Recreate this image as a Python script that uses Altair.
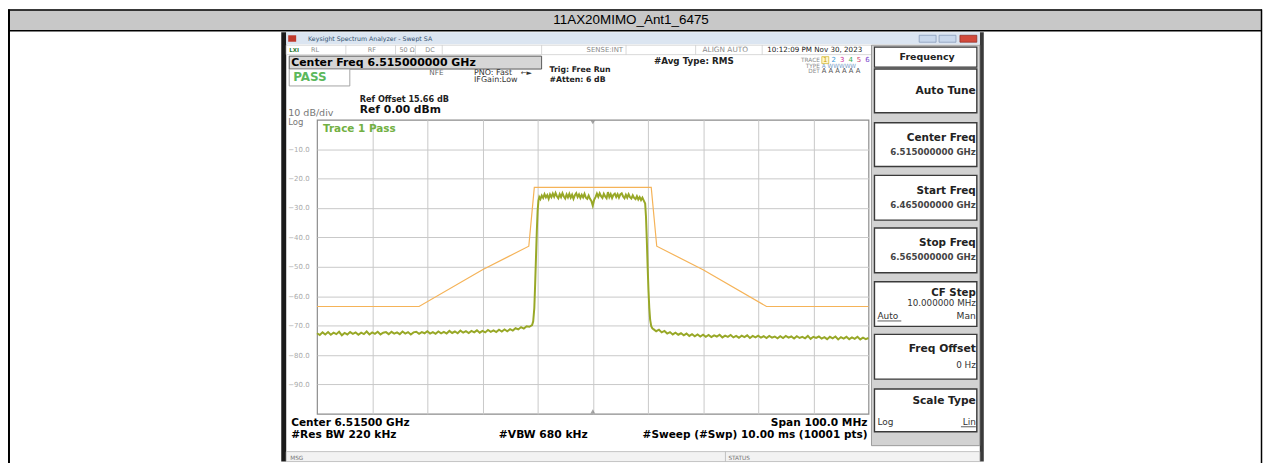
import altair as alt
import pandas as pd

# ---------------- data ----------------
# Trace 1, frequency offset from centre (MHz) / level (dBm)
left_floor_start, floor_step = -50.0, 0.5
left_floor_dbm = [
    -72.6, -73.2, -72.3, -73.0, -72.2, -73.1, -72.4, -72.9, -72.1, -73.3,
    -72.5, -73.0, -72.2, -72.8, -72.3, -73.1, -72.4, -72.9, -72.0, -73.0,
    -72.3, -72.8, -72.1, -73.0, -72.4, -72.2, -72.9, -72.1, -72.7, -72.3,
    -72.9, -72.0, -72.7, -72.2, -73.0, -72.3, -72.1, -72.8, -72.2, -72.6,
    -71.9, -72.7, -72.2, -72.8, -72.0, -72.6, -72.1, -72.7, -71.8, -72.5,
    -72.0, -72.6, -71.7, -72.4, -71.9, -72.5, -71.8, -72.3, -71.6, -72.4,
    -71.8, -72.3, -71.5, -72.1, -71.6, -72.2, -71.4, -72.0, -71.3, -71.9,
    -71.2, -71.7, -70.9, -71.3, -70.5, -71.0, -70.2, -70.4,
]
left_edge_mhz = [-11.0, -10.8, -10.6, -10.45, -10.3, -10.15, -10.0, -9.85, -9.7]
left_edge_dbm = [-69.8, -68.5, -64.0, -56.0, -47.0, -38.0, -31.0, -27.5, -26.3]
band_start, band_step = -9.5, 0.25
band_dbm = [
    -27.0, -25.8, -26.6, -25.3, -26.4, -25.6, -26.9, -25.4, -26.3, -25.1,
    -26.2, -24.9, -26.0, -26.7, -25.3, -26.3, -25.0, -26.1, -26.8, -25.4,
    -26.4, -25.2, -26.5, -25.5, -26.9, -25.7, -25.0, -26.3, -25.4, -26.6,
    -25.5, -26.4, -25.2, -26.5, -26.9, -25.8, -26.9, -27.6, -29.2, -27.2,
    -26.3, -25.1, -26.2, -25.0, -26.0, -26.6, -25.2, -26.1, -26.7, -24.6,
    -26.3, -25.3, -26.6, -25.5, -25.1, -26.3, -25.3, -26.5, -25.4, -25.0,
    -26.1, -26.7, -25.5, -26.5, -25.3, -26.3, -26.8, -25.7, -26.6, -27.0,
    -26.0, -27.1, -26.3, -27.3, -26.5, -27.5,
]
right_edge_mhz = [9.5, 9.65, 9.8, 9.95, 10.1, 10.25, 10.4, 10.6, 10.8]
right_edge_dbm = [-28.5, -33.0, -41.0, -50.0, -58.0, -64.0, -68.0, -70.2, -70.9]
right_floor_start = 11.0
right_floor_dbm = [
    -71.2, -71.9, -71.4, -72.3, -71.8, -72.7, -72.2, -73.0, -72.4, -73.1,
    -72.6, -73.3, -72.7, -73.5, -72.9, -73.6, -73.0, -73.7, -73.1, -73.8,
    -73.2, -73.9, -73.3, -73.7, -73.1, -74.0, -73.4, -73.8, -73.2, -74.0,
    -73.5, -74.1, -73.4, -73.9, -73.3, -74.2, -73.5, -74.0, -73.4, -74.1,
    -73.6, -74.2, -73.5, -74.1, -73.7, -74.3, -73.6, -74.2, -73.5, -74.1,
    -73.7, -74.4, -73.6, -74.2, -73.8, -74.3, -73.5, -74.5, -73.8, -74.2,
    -73.7, -74.4, -73.9, -74.6, -73.8, -74.3, -73.7, -74.7, -73.9, -74.4,
    -73.8, -74.6, -74.0, -74.5, -73.8, -74.7, -74.1, -74.6, -74.2,
]
# limit line (spectral mask)
mask_mhz = [-50, -31.5, -20, -11.6, -10.6, 10.6, 11.6, 20, 31.5, 50]
mask_dbm = [-63.5, -63.5, -51.0, -43.0, -23.0, -23.0, -43.0, -51.0, -63.5, -63.5]

y_label_values = [-10, -20, -30, -40, -50, -60, -70, -80, -90]
x_grid_values = [-40, -30, -20, -10, 0, 10, 20, 30, 40]

softkeys = [
    ("Center Freq", "6.515000000 GHz"),
    ("Start Freq", "6.465000000 GHz"),
    ("Stop Freq", "6.565000000 GHz"),
]

# ---------------- build tables ----------------
f, v = [], []
f += [left_floor_start + floor_step * i for i in range(len(left_floor_dbm))]
v += left_floor_dbm
f += left_edge_mhz
v += left_edge_dbm
f += [band_start + band_step * i for i in range(len(band_dbm))]
v += band_dbm
f += right_edge_mhz
v += right_edge_dbm
f += [right_floor_start + floor_step * i for i in range(len(right_floor_dbm))]
v += right_floor_dbm
trace_df = pd.DataFrame({"f": f, "dbm": v})
mask_df = pd.DataFrame({"f": mask_mhz, "dbm": mask_dbm})

FONT = "DejaVu Sans"
X0, Y0 = 319, 119          # page position of the plot area's top-left corner
W, H = 555, 296
ONE = pd.DataFrame({"k": [0]})

xs = alt.Scale(domain=[-50, 50], nice=False, zero=False)
ys = alt.Scale(domain=[-100, 0], nice=False, zero=False)
XAX = alt.Axis(values=x_grid_values, grid=True, labels=False, ticks=False, domain=False,
               title=None, gridColor="#c9c9c9", gridWidth=1)
YAX = alt.Axis(values=y_label_values, grid=True, format=".1f", ticks=False, domain=False,
               title=None, gridColor="#c9c9c9", gridWidth=1, labelColor="#aaaaaa",
               labelFontSize=7, labelFont=FONT, labelPadding=8, labelOverlap=False,
               labelBound=False)


def T(text, x, y, size=8, weight="normal", color="#000000", align="left", font=FONT):
    return alt.Chart(ONE).mark_text(
        text=text, fontSize=size, fontWeight=weight, color=color, align=align,
        baseline="middle", font=font
    ).encode(x=alt.value(x - X0), y=alt.value(y - Y0))


def R(x1, y1, x2, y2, fill="#ffffff", stroke=None, sw=1.0):
    kw = dict(fill=fill, strokeWidth=sw)
    if stroke:
        kw["stroke"] = stroke
    return alt.Chart(ONE).mark_rect(**kw).encode(
        x=alt.value(x1 - X0), x2=alt.value(x2 - X0),
        y=alt.value(y1 - Y0), y2=alt.value(y2 - Y0)
    )


def L(x1, y1, x2, y2, color="#000000", sw=1.0):
    return alt.Chart(ONE).mark_rule(color=color, strokeWidth=sw).encode(
        x=alt.value(x1 - X0), x2=alt.value(x2 - X0),
        y=alt.value(y1 - Y0), y2=alt.value(y2 - Y0)
    )


layers = []
# ---- document table + title row ----
layers.append(R(8, 8, 1270, 29, fill="#c8c8c8"))
layers.append(L(8, 8.5, 1270, 8.5, "#000000", 1.5))
layers.append(L(8, 29.5, 1270, 29.5, "#000000", 1.5))
layers.append(L(9, 8, 9, 470, "#000000", 2))
layers.append(L(1269.5, 8, 1269.5, 470, "#000000", 1.5))
layers.append(T("11AX20MIMO_Ant1_6475", 635, 19, size=13.5, align="center", font="Liberation Sans"))

# ---- window frame ----
layers.append(R(283, 31, 288, 463, fill="#1a1a1a"))
layers.append(R(986, 31, 990, 463, fill="#3a3a3a"))
layers.append(R(288, 31, 986, 43, fill="#dbe5f1"))
layers.append(R(290, 34, 298, 40.5, fill="#c0392b"))
layers.append(T("Keysight Spectrum Analyzer - Swept SA", 310, 38, size=6.3, color="#2f4f6f"))
layers.append(R(925, 34, 942, 41, fill="#c9d8ec", stroke="#7f93b3", sw=0.7))
layers.append(R(945, 34, 962, 41, fill="#c9d8ec", stroke="#7f93b3", sw=0.7))
layers.append(R(966, 34, 983, 41, fill="#d24a3c", stroke="#8a2a20", sw=0.7))

# ---- status row ----
layers.append(R(288, 44, 877, 53.5, fill="#ffffff", stroke="#c8c8c8", sw=0.7))
for sx in [348, 398, 418, 445, 545, 630, 700, 767]:
    layers.append(L(sx, 44, sx, 53.5, "#c8c8c8", 0.7))
layers.append(T("LXI", 291, 49, size=5.5, weight="bold", color="#2e7d32"))
layers.append(T("RL", 313, 49, size=6.5, color="#8a8a8a"))
layers.append(T("RF", 370, 49, size=6.5, color="#8a8a8a"))
layers.append(T("50 Ω", 402, 49, size=6.5, color="#8a8a8a"))
layers.append(T("DC", 428, 49, size=6.5, color="#8a8a8a"))
layers.append(T("SENSE:INT", 627, 49, size=7, color="#8a8a8a", align="right"))
layers.append(T("ALIGN AUTO", 707, 49, size=7.4, color="#8a8a8a"))
layers.append(T("10:12:09 PM Nov 30, 2023", 772, 49, size=7.2, color="#222222"))

# ---- top info block ----
layers.append(R(291, 55, 545, 68, fill="#d6d6d6", stroke="#4a4a4a", sw=0.9))
layers.append(T("Center Freq 6.515000000 GHz", 293, 61.5, size=11, weight="bold"))
layers.append(R(291, 68, 352, 85, fill="#ffffff", stroke="#9a9a9a", sw=0.9))
layers.append(T("PASS", 295, 76.5, size=12, weight="bold", color="#5cb85c"))
layers.append(T("NFE", 432, 71.5, size=7.3, color="#666666"))
layers.append(T("PNO: Fast", 477, 71.5, size=8, color="#333333"))
layers.append(T("←►", 524, 71.5, size=7, color="#333333"))
layers.append(T("IFGain:Low", 477, 79.5, size=8, color="#333333"))
layers.append(T("Trig: Free Run", 553, 68.5, size=7.8, weight="bold", color="#222222"))
layers.append(T("#Atten: 6 dB", 553, 79.5, size=7.8, weight="bold", color="#222222"))
layers.append(T("#Avg Type: RMS", 658, 60, size=8.8, weight="bold", color="#222222"))
layers.append(T("TRACE", 825, 59, size=5.8, color="#8a8a8a", align="right"))
layers.append(T("TYPE", 825, 64.5, size=5.8, color="#8a8a8a", align="right"))
layers.append(T("DET", 825, 70, size=5.8, color="#8a8a8a", align="right"))
layers.append(R(827, 55.5, 834, 62.5, fill="#fff6cc", stroke="#c9a800", sw=0.6))
trace_colors = ["#c9a000", "#3a9ad9", "#cc3399", "#33aa44", "#cc3366", "#7744cc"]
for i, c in enumerate(trace_colors):
    layers.append(T(str(i + 1), 830.5 + 8.5 * i, 59, size=7, color=c, align="center"))
layers.append(T("A  WWWWW", 827, 64.5, size=5.8, color="#7aa0c8"))
layers.append(T("A  A  A  A  A  A", 827, 70, size=6.8, color="#555555"))

layers.append(T("Ref Offset 15.66 dB", 362, 99.5, size=8.2, weight="bold", color="#222222"))
layers.append(T("Ref 0.00 dBm", 362, 109.5, size=10.8, weight="bold", color="#111111"))
layers.append(T("10 dB/div", 290, 112, size=9.6, color="#777777"))
layers.append(T("Log", 290, 121, size=8.6, color="#777777"))

# ---- bottom info ----
layers.append(T("Center 6.51500 GHz", 293, 424, size=10.6, weight="bold"))
layers.append(T("Span 100.0 MHz", 873, 424, size=10.7, weight="bold", align="right"))
layers.append(T("#Res BW 220 kHz", 293, 436.5, size=10.7, weight="bold"))
layers.append(T("#VBW 680 kHz", 502, 436.5, size=10.8, weight="bold"))
layers.append(T("#Sweep (#Swp)  10.00 ms (10001 pts)", 873, 436.5, size=10.6, weight="bold", align="right"))
layers.append(R(288, 453, 986, 463, fill="#f2f2f2", stroke="#b5b5b5", sw=0.8))
layers.append(L(730, 453, 730, 463, "#b5b5b5", 0.8))
layers.append(T("MSG", 292, 459, size=5.8, color="#777777"))
layers.append(T("STATUS", 733, 459, size=5.8, color="#777777"))

# ---- softkey panel ----
layers.append(R(877, 44, 986, 447, fill="#d2d2d2", stroke="#8a8a8a", sw=0.8))
layers.append(R(880, 46, 983, 66, fill="#ffffff", stroke="#3a3a3a", sw=1.2))
layers.append(T("Frequency", 933, 56, size=9.5, weight="bold", color="#222222", align="center"))
buttons = [(68, 112), (122, 166), (175, 220), (228, 273), (282, 327), (335, 380), (390, 433)]
for (b1, b2) in buttons:
    layers.append(R(880, b1, 983, b2, fill="#ffffff", stroke="#3a3a3a", sw=1.4))
layers.append(T("Auto Tune", 982, 90.5, size=10.7, weight="bold", color="#222222", align="right"))
for (title, val), (b1, b2) in zip(softkeys, buttons[1:4]):
    layers.append(T(title, 982, b1 + 15.5, size=10.5, weight="bold", color="#222222", align="right"))
    layers.append(T(val, 982, b1 + 29.5, size=8.7, weight="bold", color="#444444", align="right"))
layers.append(T("CF Step", 982, 293, size=10.3, weight="bold", color="#222222", align="right"))
layers.append(T("10.000000 MHz", 982, 303.5, size=8.8, color="#333333", align="right"))
layers.append(T("Auto", 883, 316.5, size=9, color="#333333"))
layers.append(L(883, 321.5, 907, 321.5, "#333333", 0.8))
layers.append(T("Man", 982, 316.5, size=9.2, color="#333333", align="right"))
layers.append(T("Freq Offset", 982, 350, size=10.8, weight="bold", color="#222222", align="right"))
layers.append(T("0 Hz", 982, 366, size=8.9, color="#333333", align="right"))
layers.append(T("Scale Type", 982, 402, size=10.7, weight="bold", color="#222222", align="right"))
layers.append(T("Log", 883, 423, size=9, color="#333333"))
layers.append(T("Lin", 982, 423, size=9, color="#333333", align="right"))
layers.append(L(967, 428, 982, 428, "#333333", 0.8))

# ---- plot content (through the scales) ----
grid_layer = alt.Chart(mask_df).mark_line(opacity=0).encode(
    x=alt.X("f:Q", scale=xs, axis=XAX),
    y=alt.Y("dbm:Q", scale=ys, axis=YAX),
)
mask_layer = alt.Chart(mask_df).mark_line(color="#f5b358", strokeWidth=1.2).encode(
    x=alt.X("f:Q", scale=xs, axis=XAX), y=alt.Y("dbm:Q", scale=ys, axis=YAX)
)
trace_layer = alt.Chart(trace_df).mark_line(color="#98a827", strokeWidth=2.0).encode(
    x=alt.X("f:Q", scale=xs, axis=XAX), y=alt.Y("dbm:Q", scale=ys, axis=YAX)
)
marker_top = alt.Chart(ONE).mark_point(shape="triangle-down", filled=True, color="#808080", size=22).encode(
    x=alt.X(datum=0, scale=xs, axis=XAX), y=alt.value(2.5)
)
marker_bot = alt.Chart(ONE).mark_point(shape="triangle-up", filled=True, color="#808080", size=22).encode(
    x=alt.X(datum=0, scale=xs, axis=XAX), y=alt.value(H - 2.5)
)
trace_label = alt.Chart(ONE).mark_text(text="Trace 1 Pass", fontSize=10.5, fontWeight="bold",
                                        color="#72b043", align="left", baseline="middle",
                                        font=FONT).encode(x=alt.value(6), y=alt.value(9))

chart = alt.layer(*layers, grid_layer, mask_layer, trace_layer, marker_top, marker_bot,
                  trace_label).properties(
    width=W, height=H,
    autosize=alt.AutoSizeParams(type="none"),
    padding={"left": X0 - 8, "top": Y0 - 8, "right": 1263 - (X0 - 8) - W,
             "bottom": 455 - (Y0 - 8) - H},
    background="#ffffff",
).configure_view(stroke="#8c8c8c", strokeWidth=1.2).configure_axis(labelOverlap=False)

chart.save("out.html", embed_options={"renderer": "svg", "actions": False})
